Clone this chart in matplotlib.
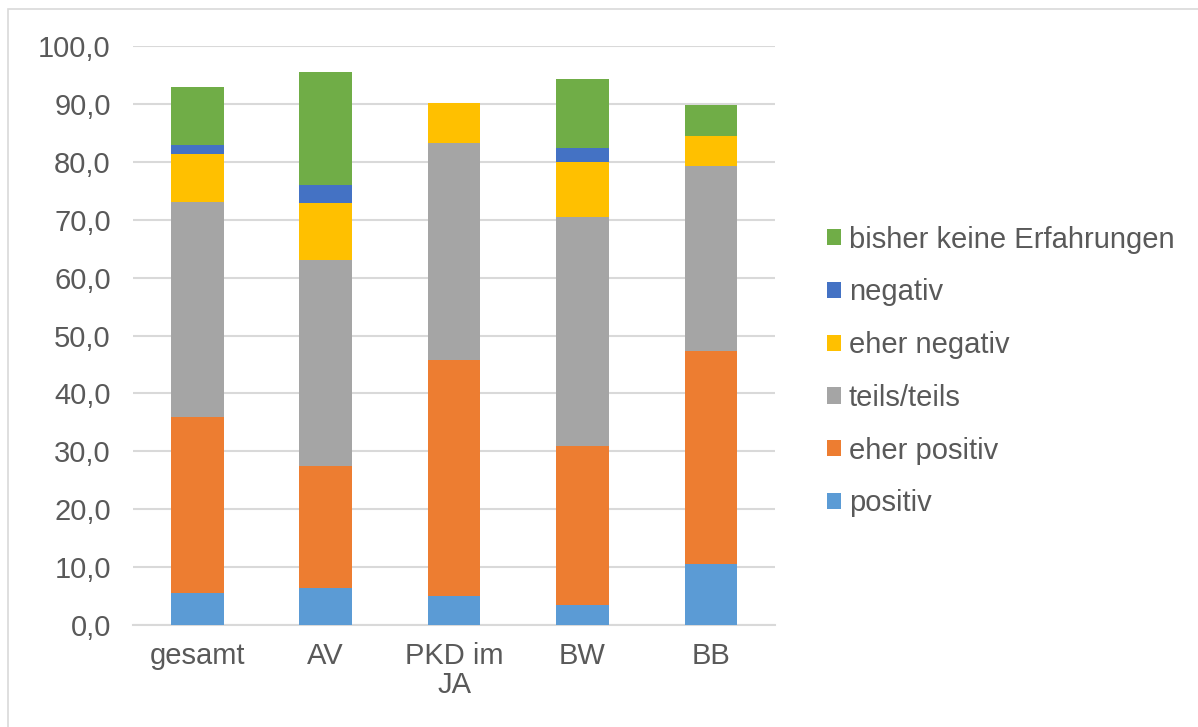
import numpy as np
import matplotlib
matplotlib.use("Agg")
import matplotlib.pyplot as plt
from matplotlib.patches import Rectangle

plt.rcParams['font.family'] = ['Liberation Sans', 'DejaVu Sans']

# Anteile je Gruppe (in %)
gruppen = ['gesamt', 'AV', 'PKD im\nJA', 'BW', 'BB']
positiv = [5.6, 6.4, 5.0, 3.5, 10.5]
eher_positiv = [30.4, 21.1, 40.8, 27.4, 36.9]
teils_teils = [37.1, 35.5, 37.4, 39.6, 31.8]
eher_negativ = [8.2, 9.8, 6.9, 9.5, 5.3]
negativ = [1.6, 3.2, 0.0, 2.3, 0.0]
keine_erfahrungen = [10.0, 19.4, 0.0, 12.0, 5.2]

reihen = [
    ('positiv', positiv, '#5B9BD5'),
    ('eher positiv', eher_positiv, '#ED7D31'),
    ('teils/teils', teils_teils, '#A5A5A5'),
    ('eher negativ', eher_negativ, '#FFC000'),
    ('negativ', negativ, '#4472C4'),
    ('bisher keine Erfahrungen', keine_erfahrungen, '#70AD47'),
]

fig = plt.figure(figsize=(11.98, 7.27), dpi=100)
ax = fig.add_axes([0.111, 0.140, 0.536, 0.797])

x = np.arange(len(gruppen))
unten = np.zeros(len(gruppen))
handles = []
for name, werte, farbe in reihen:
    b = ax.bar(x, werte, width=0.41, bottom=unten, color=farbe, label=name,
               zorder=3)
    handles.append(b)
    unten += np.array(werte)

ax.set_xlim(-0.5, len(gruppen) - 0.5)
ax.set_ylim(0, 100)
ax.set_yticks(np.arange(0, 101, 10))
ax.set_yticklabels([f'{v:.1f}'.replace('.', ',') for v in range(0, 101, 10)])
ax.set_xticks(x)
ax.set_xticklabels(gruppen, linespacing=1.05)
ax.tick_params(axis='both', length=0, labelsize=21, labelcolor='#595959')
ax.tick_params(axis='y', pad=16)
ax.tick_params(axis='x', pad=12)
ax.grid(axis='y', color='#D9D9D9', linewidth=1.5, zorder=0)
for s in ['top', 'right', 'left']:
    ax.spines[s].set_visible(False)
ax.spines['bottom'].set_color('#D9D9D9')
ax.spines['bottom'].set_linewidth(1.5)

fig.legend(handles[::-1], [r[0] for r in reihen][::-1],
           loc='center left', bbox_to_anchor=(0.678, 0.489),
           frameon=False, fontsize=21, labelcolor='#595959',
           borderpad=0, handlelength=0.48, handleheight=0.48,
           handletextpad=0.27, labelspacing=0.85)

# heller Rahmen um die Grafik
fig.patches.append(Rectangle((0.007, -0.02), 1.1, 1.008, transform=fig.transFigure,
                             fill=False, edgecolor='#D9D9D9', linewidth=1.2))

fig.savefig('out.png', dpi=100)
